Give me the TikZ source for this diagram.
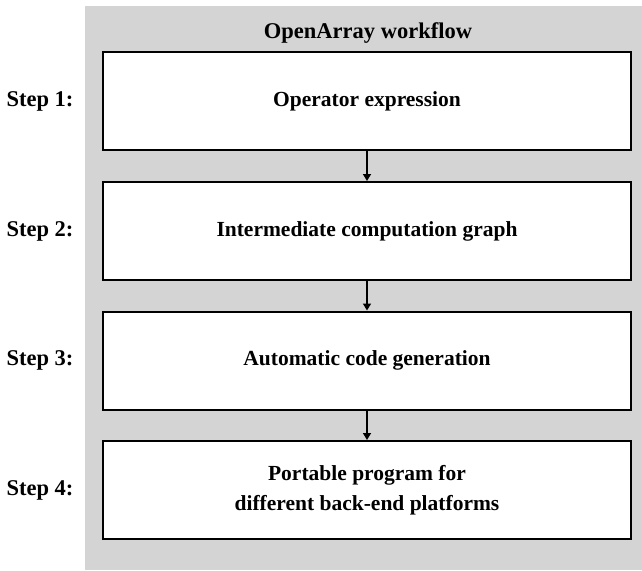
\documentclass[tikz,border=0pt]{standalone}
\usepackage{fontspec}
\setmainfont{Liberation Serif}
\usetikzlibrary{arrows.meta}
\definecolor{bggray}{RGB}{212,212,212}
\tikzset{
  stepbox/.style={draw=black, line width=2pt, fill=white, minimum width=528pt, minimum height=98pt, inner sep=0pt, align=center, font=\bfseries\fontsize{21.5}{26}\selectfont},
  steplabel/.style={font=\bfseries\fontsize{22.5}{27}\selectfont, anchor=center},
  flow/.style={line width=1.5pt, -{Triangle[length=7pt,width=8pt]}}
}
\begin{document}
\begin{tikzpicture}[x=1pt,y=1pt]
\useasboundingbox (0,0) rectangle (642,-570);
\fill[bggray] (85,-6) rectangle (642,-570);
\node[font=\bfseries\fontsize{22.5}{27}\selectfont] (title) at (368,-33) {OpenArray workflow};
\node[stepbox] (b1) at (367,-101) {Operator expression};
\node[stepbox] (b2) at (367,-231) {Intermediate computation graph};
\node[stepbox] (b3) at (367,-360.5) {Automatic code generation};
\node[stepbox] (b4) at (367,-490) {Portable program for\\[4pt]different back-end platforms};
\node[steplabel] (s1) at (40,-101) {Step 1:};
\node[steplabel] (s2) at (40,-231) {Step 2:};
\node[steplabel] (s3) at (40,-360.5) {Step 3:};
\node[steplabel] (s4) at (40,-490) {Step 4:};
\draw[flow] (b1.south) -- (b2.north);
\draw[flow] (b2.south) -- (b3.north);
\draw[flow] (b3.south) -- (b4.north);
\end{tikzpicture}
\end{document}
